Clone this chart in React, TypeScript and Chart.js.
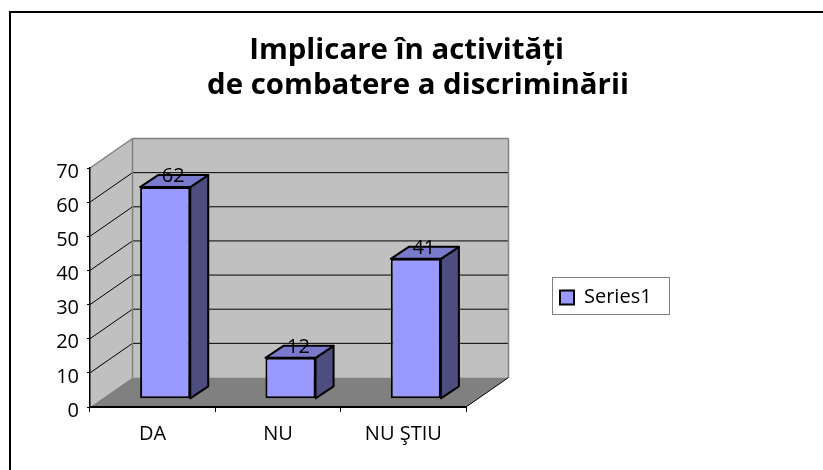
import React, { useEffect, useRef } from "react";
import { Chart, registerables } from "chart.js";

Chart.register(...registerables);

const categories = ["DA", "NU", "NU ŞTIU"];
const seriesName = "Series1";
const values = [62, 12, 41];
const titleLines = ["Implicare în activități   ", "de combatere a discriminării"];
const FONT = "'Open Sans', Lato, sans-serif";

const BACK = { dx: 42.5, dy: -29.5 };
const BAR_SHIFT = { dx: 12.5, dy: -8.2 };
const BAR_DEPTH = { dx: 18, dy: -12 };

const poly = (ctx: CanvasRenderingContext2D, pts: number[][], fill?: string, stroke?: string, lw = 1) => {
  ctx.beginPath();
  pts.forEach(([x, y], i) => (i ? ctx.lineTo(x, y) : ctx.moveTo(x, y)));
  ctx.closePath();
  if (fill) {
    ctx.fillStyle = fill;
    ctx.fill();
  }
  if (stroke) {
    ctx.strokeStyle = stroke;
    ctx.lineWidth = lw;
    ctx.lineJoin = "round";
    ctx.stroke();
  }
};

const seg = (ctx: CanvasRenderingContext2D, x1: number, y1: number, x2: number, y2: number, color: string, lw = 1) => {
  ctx.beginPath();
  ctx.moveTo(x1, y1);
  ctx.lineTo(x2, y2);
  ctx.strokeStyle = color;
  ctx.lineWidth = lw;
  ctx.stroke();
};

const chart3d = {
  id: "chart3d",
  afterLayout(chart: any) {
    chart.titleBlock.left = 0;
    chart.titleBlock.right = 836;
    const lg = chart.legend;
    lg.left = 552;
    lg.right = 669;
    lg.top = 279;
    lg.bottom = 316;
    chart.scales.y.getLabelItems(chart.chartArea).forEach((item: any) => {
      item.options.translation[1] += 4;
    });
  },
  beforeDraw(chart: any) {
    const { ctx, chartArea: a, scales } = chart;
    const y = scales.y;
    ctx.save();
    ctx.fillStyle = "#fff";
    ctx.fillRect(0, 0, chart.width, chart.height);
    ctx.fillStyle = "#000";
    ctx.fillRect(9, 11, 814, 2);
    ctx.fillRect(9, 11, 2, 459);
    const bl = a.left + BACK.dx;
    const br = a.right + BACK.dx;
    const bt = a.top + BACK.dy;
    const bb = a.bottom + BACK.dy;
    poly(ctx, [[a.left, a.bottom], [bl, bb], [bl, bt], [a.left, a.top]], "#c0c0c0");
    poly(ctx, [[bl, bt], [br, bt], [br, bb], [bl, bb]], "#c0c0c0");
    poly(ctx, [[a.left, a.bottom], [a.right, a.bottom], [br, bb], [bl, bb]], "#808080");
    y.ticks.forEach((t: any) => {
      if (t.value === 0 || t.value === y.max) return;
      const py = y.getPixelForValue(t.value);
      seg(ctx, a.left, py, bl, py + BACK.dy, "#000");
      seg(ctx, bl, py + BACK.dy, br, py + BACK.dy, "#000");
    });
    seg(ctx, a.left, a.top, bl, bt, "#808080", 1.5);
    seg(ctx, bl, bt, br, bt, "#808080", 1.5);
    seg(ctx, br, bt, br, bb, "#808080", 1.5);
    seg(ctx, bl, bt, bl, bb, "#808080", 1.5);
    seg(ctx, a.right, a.bottom, br, bb, "#000");
    ctx.fillStyle = "#fff";
    ctx.fillRect(552, 277, 117, 37);
    ctx.strokeStyle = "#808080";
    ctx.lineWidth = 1;
    ctx.strokeRect(552.5, 277.5, 117, 37);
    ctx.restore();
  },
  beforeDatasetDraw(chart: any, args: any) {
    const { ctx } = chart;
    const meta = chart.getDatasetMeta(args.index);
    ctx.save();
    ctx.translate(BAR_SHIFT.dx, BAR_SHIFT.dy);
    meta.data.forEach((bar: any) => {
      const l = bar.x - bar.width / 2;
      const r = bar.x + bar.width / 2;
      const { y: t, base: b } = bar;
      const { dx, dy } = BAR_DEPTH;
      poly(ctx, [[r, t], [r + dx, t + dy], [r + dx, b + dy], [r, b]], "#4d4d80", "#000", 2);
      poly(ctx, [[l, t], [l + dx, t + dy], [r + dx, t + dy], [r, t]], "#7a7acc", "#000", 2);
    });
  },
  afterDatasetDraw(chart: any) {
    chart.ctx.restore();
  },
  afterDatasetsDraw(chart: any) {
    const { ctx } = chart;
    const meta = chart.getDatasetMeta(0);
    ctx.save();
    ctx.fillStyle = "#000";
    ctx.font = `20px ${FONT}`;
    ctx.textAlign = "center";
    ctx.textBaseline = "middle";
    meta.data.forEach((bar: any, i: number) => {
      ctx.fillText(String(values[i]), bar.x + BAR_SHIFT.dx + 8, bar.y + BAR_SHIFT.dy - 11);
    });
    ctx.restore();
  },
};

export default function App() {
  const ref = useRef<HTMLCanvasElement>(null);
  useEffect(() => {
    document.body.style.margin = "0";
    const chart = new Chart(ref.current!, {
      type: "bar",
      plugins: [chart3d],
      data: {
        labels: categories,
        datasets: [
          {
            label: seriesName,
            data: values,
            backgroundColor: "#9999ff",
            borderColor: "#000",
            borderWidth: 2,
            borderSkipped: false,
            categoryPercentage: 1,
            barPercentage: 0.4,
            clip: false,
          } as any,
        ],
      },
      options: {
        animation: false,
        responsive: false,
        layout: { padding: { left: 20, right: 357, top: 0, bottom: 0 } },
        plugins: {
          tooltip: { enabled: false },
          title: {
            display: true,
            text: titleLines,
            color: "#000",
            font: { family: FONT, size: 29.4, weight: "bold", lineHeight: 35 / 29.4 },
            padding: { top: 33, bottom: 65 },
          },
          legend: {
            position: "chartArea",
            labels: {
              color: "#000",
              font: { family: FONT, size: 20 },
              boxWidth: 14,
              boxHeight: 14,
              padding: 8,
            },
          } as any,
        },
        scales: {
          x: {
            grid: { drawOnChartArea: false, tickLength: 5, color: "#000", tickColor: "#000" },
            border: { color: "#000", width: 2 },
            ticks: { color: "#000", font: { family: FONT, size: 20 }, padding: 10, maxRotation: 0 },
            afterFit: (s: any) => {
              s.height = 63;
            },
          },
          y: {
            min: 0,
            max: 70,
            grid: { drawOnChartArea: false, tickLength: 3, color: "#000", tickColor: "#000" },
            border: { color: "#000", width: 1.5 },
            ticks: { color: "#000", stepSize: 10, font: { family: FONT, size: 20 }, padding: 8 },
            afterFit: (s: any) => {
              s.width = 70;
            },
          },
        },
      },
    });
    return () => chart.destroy();
  }, []);
  return (
    <div style={{ position: "fixed", left: 0, top: 0, width: 823, height: 470 }}>
      <canvas ref={ref} width={823} height={470} style={{ display: "block" }} />
    </div>
  );
}
